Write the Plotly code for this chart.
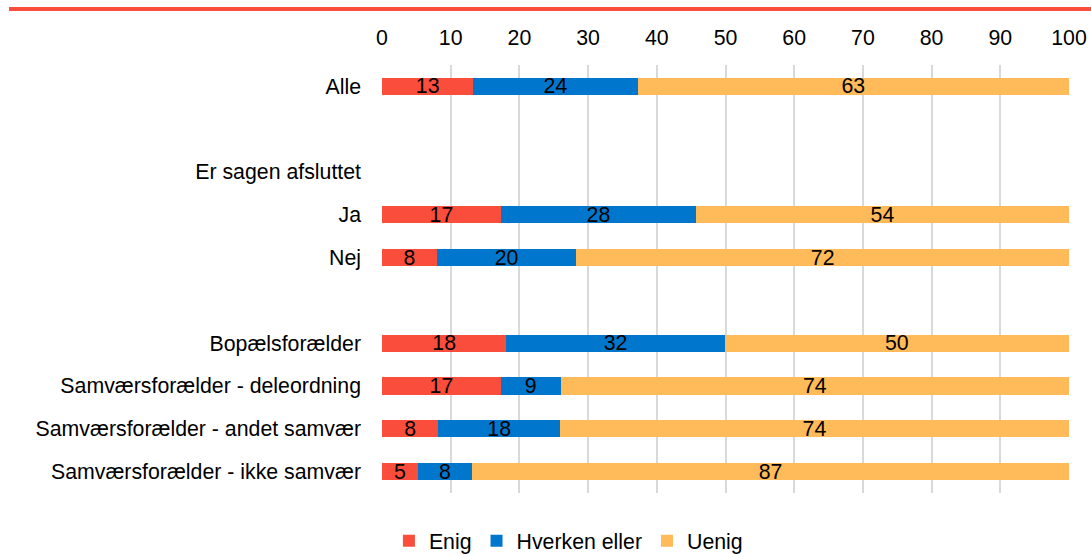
import plotly.graph_objects as go

# Row labels (top to bottom); empty strings are spacer rows
categories = [
    "Alle",
    "",
    "Er sagen afsluttet",
    "Ja",
    "Nej",
    " ",
    "Bopælsforælder",
    "Samværsforælder - deleordning",
    "Samværsforælder - andet samvær",
    "Samværsforælder - ikke samvær",
]

# Rows that carry a bar, and their shares (percent)
bar_rows = [
    "Alle",
    "Ja",
    "Nej",
    "Bopælsforælder",
    "Samværsforælder - deleordning",
    "Samværsforælder - andet samvær",
    "Samværsforælder - ikke samvær",
]
enig = [13.3, 17.3, 8.0, 18.1, 17.3, 8.2, 5.2]
hverken = [23.9, 28.4, 20.3, 31.8, 8.7, 17.7, 7.9]
uenig = [62.8, 54.3, 71.7, 50.1, 74.0, 74.1, 86.9]

series_names = ["Enig", "Hverken eller", "Uenig"]
colors = ["#FA4D3C", "#0077CC", "#FFBA5A"]

x_ticks = list(range(0, 101, 10))

FONT = "Liberation Sans, Arial, sans-serif"
FS = 21.3

W, H = 1091, 554
ML, MR, MT, MB = 382, 22, 65, 61

row_index = {c: i for i, c in enumerate(categories)}
y_pos = [row_index[c] for c in bar_rows]

fig = go.Figure()
for name, vals, col in zip(series_names, [enig, hverken, uenig], colors):
    fig.add_trace(
        go.Bar(
            name=name,
            orientation="h",
            x=vals,
            y=y_pos,
            marker=dict(color=col, line=dict(width=0)),
            width=0.40,
            text=[f"{v:.0f}" for v in vals],
            textposition="inside",
            insidetextanchor="middle",
            textangle=0,
            constraintext="none",
            textfont=dict(family=FONT, size=FS, color="#000000"),
            cliponaxis=False,
            hoverinfo="skip",
        )
    )

# Thin red rule across the top of the page
plot_w = W - ML - MR
plot_h = H - MT - MB
fig.add_shape(
    type="line",
    xref="paper",
    yref="paper",
    x0=(9 - ML) / plot_w,
    x1=(W - ML) / plot_w,
    y0=1 + (MT - 9) / plot_h,
    y1=1 + (MT - 9) / plot_h,
    line=dict(color="#FA4D3C", width=4),
)

fig.update_layout(
    width=W,
    height=H,
    barmode="stack",
    margin=dict(l=ML, r=MR, t=MT, b=MB, pad=0, autoexpand=False),
    paper_bgcolor="white",
    plot_bgcolor="white",
    font=dict(family=FONT, size=FS, color="#000000"),
    showlegend=True,
    legend=dict(
        orientation="h",
        xref="container",
        yref="container",
        x=0.521,
        xanchor="center",
        y=1 - 541 / H,
        yanchor="middle",
        font=dict(family=FONT, size=FS, color="#000000"),
        traceorder="normal",
        itemclick=False,
    ),
    xaxis=dict(
        side="top",
        range=[0, 100],
        tickvals=x_ticks,
        ticktext=[str(t) for t in x_ticks],
        showgrid=True,
        gridcolor="#D9D9D9",
        gridwidth=2,
        zeroline=False,
        showline=False,
        ticks="",
        ticklabelstandoff=15,
        automargin=False,
        tickfont=dict(family=FONT, size=FS, color="#000000"),
        fixedrange=True,
    ),
    yaxis=dict(
        range=[len(categories) - 0.5, -0.5],
        tickvals=list(range(len(categories))),
        ticktext=categories,
        showgrid=False,
        zeroline=False,
        showline=False,
        ticks="",
        ticklabelstandoff=20,
        automargin=False,
        tickfont=dict(family=FONT, size=FS, color="#000000"),
        fixedrange=True,
    ),
)

fig.write_html("out.html")
